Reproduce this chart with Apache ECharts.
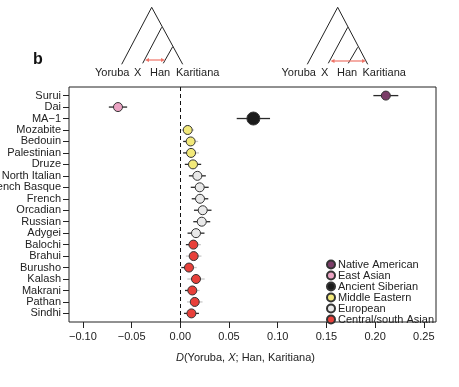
<!DOCTYPE html>
<html><head><meta charset="utf-8">
<script src="https://cdn.jsdelivr.net/npm/echarts@6/dist/echarts.min.js"></script>
<style>html,body{margin:0;padding:0;background:#fff}#c{width:459px;height:387px}</style>
</head><body><div id="c"></div>
<script>
const populations = ['Surui','Dai','MA\u22121','Mozabite','Bedouin','Palestinian','Druze','North Italian','French Basque','French','Orcadian','Russian','Adygei','Balochi','Brahui','Burusho','Kalash','Makrani','Pathan','Sindhi'];
const dValues = [0.211,-0.064,0.075,0.0076,0.0106,0.011,0.013,0.0175,0.0199,0.0202,0.023,0.022,0.0161,0.0134,0.0137,0.0089,0.0161,0.0123,0.0148,0.0114];
const stdErr = [0.0128,0.0094,0.0171,0.0065,0.0077,0.0082,0.0084,0.0087,0.0092,0.0085,0.009,0.0087,0.0087,0.0077,0.008,0.0079,0.0089,0.0075,0.008,0.0077];
const groups = ['Native American','East Asian','Ancient Siberian','Middle Eastern','Middle Eastern','Middle Eastern','Middle Eastern','European','European','European','European','European','European','Central/south Asian','Central/south Asian','Central/south Asian','Central/south Asian','Central/south Asian','Central/south Asian','Central/south Asian'];
const groupNames = ['Native American','East Asian','Ancient Siberian','Middle Eastern','European','Central/south Asian'];
const xTicks = [-0.10,-0.05,0.00,0.05,0.10,0.15,0.20,0.25];

// style config (not data)
const groupColors = {'Native American':'#7b3d68','East Asian':'#eba3c3','Ancient Siberian':'#1b1b1b','Middle Eastern':'#f2e97a','European':'#e9e9e9','Central/south Asian':'#e8403a'};
const barTone = ['kk','kk','kk','gg','kg','kg','kk','kk','kk','kk','kk','kk','kk','kg','gg','kg','gg','kg','gg','kk'];
const toneColor = {k:'#2a2a2a', g:'#c9c9c9'};

const chart = echarts.init(document.getElementById('c'), null, {renderer:'canvas'});
const FONT = 'Liberation Sans, Arial, Helvetica, sans-serif';
const TXT = '#222';

const errData = dValues.map((d,i)=>[d,i,stdErr[i]]);
const series = [{
  type:'custom',
  name:'err',
  z:2,
  renderItem:function(params, api){
    const x = api.value(0), y = api.value(1), s = api.value(2);
    const i = params.dataIndex;
    const a = api.coord([x - s, y]), m = api.coord([x, y]), b = api.coord([x + s, y]);
    const t = barTone[i];
    return {type:'group', children:[
      {type:'line', shape:{x1:a[0],y1:a[1],x2:m[0],y2:m[1]}, style:{stroke:toneColor[t[0]], lineWidth:1.3}},
      {type:'line', shape:{x1:m[0],y1:m[1],x2:b[0],y2:b[1]}, style:{stroke:toneColor[t[1]], lineWidth:1.3}}
    ]};
  },
  data: errData,
  markLine:{silent:true, symbol:'none', label:{show:false},
    lineStyle:{type:[4,3], color:'#111', width:1},
    data:[{xAxis:0}]}
}];
groupNames.forEach(g=>{
  series.push({
    type:'scatter', name:g, z:5,
    symbol:'circle',
    symbolSize: g==='Ancient Siberian' ? 13 : 9,
    itemStyle:{color:groupColors[g], borderColor:'#333', borderWidth:1, opacity:1},
    data: dValues.map((d,i)=>groups[i]===g ? [d,i] : null).filter(v=>v)
  });
});

// decorative trees
function tree(apex, yor, kar, n1, xtip, n2, htip, arrow){
  const els = [];
  const st = {stroke:'#222', lineWidth:1};
  els.push({type:'polyline', shape:{points:[yor, apex, kar]}, style:Object.assign({fill:null},st)});
  els.push({type:'line', shape:{x1:n1[0],y1:n1[1],x2:xtip[0],y2:xtip[1]}, style:st});
  els.push({type:'line', shape:{x1:n2[0],y1:n2[1],x2:htip[0],y2:htip[1]}, style:st});
  const red = '#ef7468';
  const [ax1, ax2, ay] = arrow;
  els.push({type:'line', shape:{x1:ax1+2,y1:ay,x2:ax2-2,y2:ay}, style:{stroke:red, lineWidth:1.2}});
  els.push({type:'polygon', shape:{points:[[ax1,ay],[ax1+4,ay-2],[ax1+4,ay+2]]}, style:{fill:red}});
  els.push({type:'polygon', shape:{points:[[ax2,ay],[ax2-4,ay-2],[ax2-4,ay+2]]}, style:{fill:red}});
  return els;
}
function labels(list, y){
  return list.map(([t,x])=>({type:'text', x:x, y:y, style:{text:t, font:'11px '+FONT, fill:TXT, textVerticalAlign:'middle'}}));
}
const graphics = [].concat(
  tree([151.7,7.3],[121.7,64.3],[182.7,64.3],[161.7,27.3],[142.7,63.3],[172.7,46.7],[163.3,63.3],[145,165,60]),
  labels([['Yoruba',95],['X',134],['Han',150],['Karitiana',176]], 73),
  tree([337.7,7.3],[307.3,64.3],[367.7,64.3],[347.7,27.3],[328.3,63.3],[357.7,47.3],[348.3,63.3],[330.5,366,61]),
  labels([['Yoruba',281.5],['X',321],['Han',337],['Karitiana',362.5]], 73),
  [{type:'text', x:33, y:60, style:{text:'b', font:'bold 16px '+FONT, fill:'#111', textVerticalAlign:'middle'}}]
);

chart.setOption({
  animation:false,
  backgroundColor:'#fff',
  textStyle:{fontFamily:FONT},
  grid:{left:69, right:23, top:87, bottom:65, show:true, borderColor:'#222', borderWidth:1, backgroundColor:'transparent', containLabel:false, outerBoundsMode:'none'},
  xAxis:{type:'value', min:-0.1143, max:0.2625, position:'bottom',
    axisLine:{show:false, onZero:false}, splitLine:{show:false},
    axisTick:{show:true, inside:false, length:6, lineStyle:{color:'#222'}, customValues:xTicks},
    axisLabel:{fontSize:11, color:TXT, margin:9, fontFamily:FONT, customValues:xTicks,
      formatter:v=>(v<0?'\u2212':'')+Math.abs(v).toFixed(2)},
    name:'{i|D}(Yoruba, {i|X}; Han, Karitiana)', nameLocation:'middle', nameGap:30,
    nameTextStyle:{fontSize:11, color:TXT, fontFamily:FONT, padding:[0,14,0,0],
      rich:{i:{fontStyle:'italic', fontSize:11, color:TXT, fontFamily:FONT}}}
  },
  yAxis:{type:'value', inverse:true, min:-0.75, max:19.75, position:'left',
    axisLine:{show:false, onZero:false}, splitLine:{show:false},
    axisTick:{show:true, inside:false, length:6, lineStyle:{color:'#222'}, customValues:populations.map((p,i)=>i)},
    axisLabel:{fontSize:11, color:TXT, margin:8, fontFamily:FONT, customValues:populations.map((p,i)=>i),
      formatter:v=>populations[Math.round(v)]}
  },
  legend:{orient:'vertical', left:326, top:259, padding:0, itemGap:0, itemWidth:8, itemHeight:8,
    icon:'circle', data:groupNames,
    textStyle:{fontSize:11, color:TXT, fontFamily:FONT, lineHeight:9.6, padding:[0,0,0,-2]}},
  graphic:graphics,
  series:series
});
</script></body></html>
